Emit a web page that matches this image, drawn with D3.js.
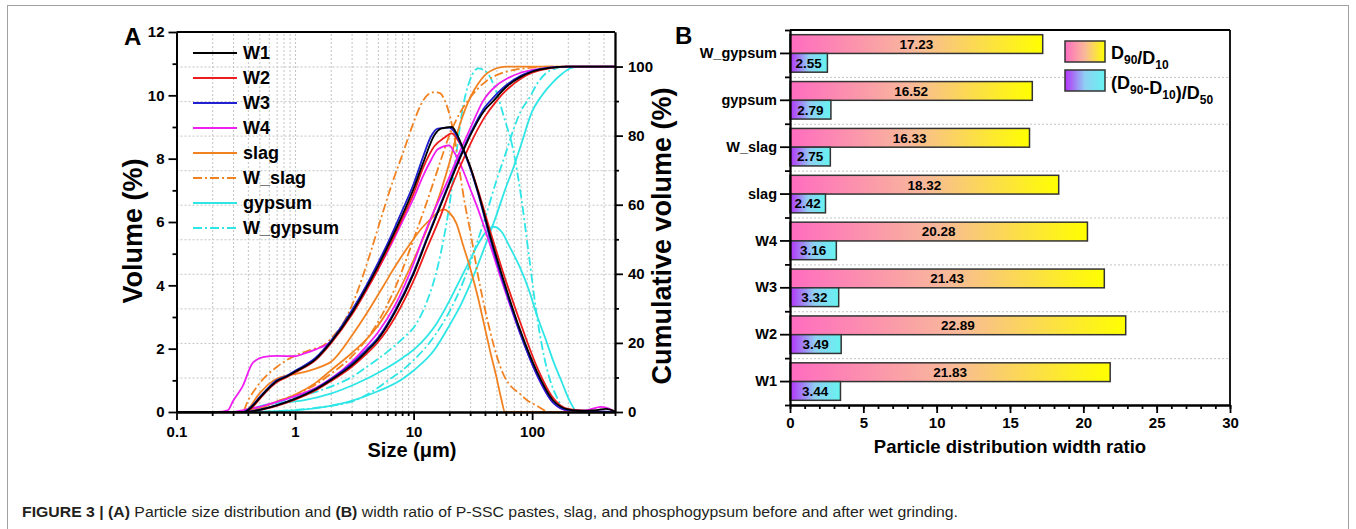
<!DOCTYPE html>
<html>
<head>
<meta charset="utf-8">
<script src="https://cdn.jsdelivr.net/npm/d3@7"></script>
<style>
  body { margin: 0; background: #fff; }
  svg { display: block; font-family: "Liberation Sans", Arial, Helvetica, sans-serif; }
  .axis path, .axis line { stroke: #000; stroke-width: 1.8; }
  .axis text { font-size: 15px; font-weight: bold; fill: #000; }
  .grid line { stroke: #c4c4c4; stroke-width: 1; stroke-dasharray: 2,2; }
  .grid path { display: none; }
</style>
</head>
<body>
<div id="chart"></div>
<script>
// ---------- Panel A: particle size distribution, [size um, value] ----------
const w1Vol = [[0.1,0],[0.37,0],[0.42,0.12],[0.5,0.43],[0.6,0.75],[0.7,0.97],[0.85,1.12],[1,1.27],[1.5,1.68],[2,2.2],[3,3.12],[4,3.92],[5,4.6],[6,5.2],[8,6.2],[10,7.05],[12,7.85],[15,8.75],[17,8.95],[21,9.0],[23,8.8],[26,8.35],[30,7.75],[35,6.95],[44,5.6],[57,4.2],[79,2.6],[109,1.3],[150,0.37],[200,0.08],[250,0.04],[350,0.06],[420,0.1],[500,0.02]];
const w2Vol = [[0.1,0],[0.38,0],[0.43,0.12],[0.5,0.4],[0.6,0.72],[0.7,0.94],[0.85,1.1],[1,1.25],[1.5,1.65],[2,2.16],[3,3.06],[4,3.85],[5,4.5],[6,5.1],[8,6.1],[10,6.9],[12,7.7],[15,8.4],[18,8.65],[21,8.8],[23,8.65],[26,8.3],[30,7.75],[35,7.0],[44,5.75],[57,4.4],[79,2.85],[109,1.45],[150,0.45],[200,0.1],[300,0.03],[500,0]];
const w3Vol = [[0.1,0],[0.36,0],[0.42,0.15],[0.5,0.46],[0.6,0.78],[0.7,1.0],[0.85,1.14],[1,1.3],[1.5,1.72],[2,2.24],[3,3.2],[4,4.0],[5,4.7],[6,5.3],[8,6.35],[10,7.2],[12,8.05],[14,8.7],[16,8.95],[20,8.98],[22,8.85],[26,8.3],[30,7.7],[35,6.9],[44,5.5],[57,4.1],[79,2.5],[109,1.2],[150,0.3],[200,0.06],[300,0.03],[500,0]];
const w4Vol = [[0.1,0],[0.22,0],[0.27,0.05],[0.3,0.35],[0.36,0.8],[0.44,1.55],[0.55,1.74],[0.7,1.77],[1,1.76],[1.2,1.85],[1.5,1.98],[2,2.22],[3,3.1],[4,3.85],[5,4.5],[6,5.05],[8,6.0],[10,6.75],[12,7.45],[14,7.95],[16,8.3],[20,8.42],[22,8.2],[26,7.65],[30,7.05],[35,6.4],[44,5.3],[57,4.0],[79,2.5],[109,1.2],[150,0.3],[200,0.05],[280,0.05],[380,0.16],[450,0.1],[500,0]];
const slagVol = [[0.1,0],[0.37,0],[0.5,0.58],[0.6,0.88],[0.7,1.05],[0.85,1.15],[1,1.2],[1.3,1.3],[1.7,1.45],[2,1.58],[3,2.4],[4,3.1],[5.5,3.95],[7,4.6],[9.3,5.3],[12,5.85],[14,6.1],[17.8,6.4],[20,6.3],[23,5.95],[26,5.3],[30,4.55],[35,3.6],[38.6,2.9],[45,1.8],[50,1.1],[55,0.4],[59,0],[500,0]];
const wSlagVol = [[0.1,0],[0.36,0],[0.4,0.35],[0.5,0.9],[0.7,1.42],[1,1.78],[1.4,1.98],[1.73,2.1],[2.1,2.4],[2.55,2.8],[3.2,3.6],[4.3,5.0],[5.5,6.3],[6.7,7.3],[8,8.1],[9.9,9.1],[11.5,9.7],[13,10.0],[15,10.1],[16.7,10.07],[18.5,9.8],[20.4,9.3],[22.5,8.5],[24.7,7.5],[27,6.6],[29.6,5.84],[35,4.3],[44,2.58],[50,1.8],[57,1.2],[65,0.85],[78.6,0.58],[90,0.38],[108,0.21],[140,0],[500,0]];
const gypVol = [[0.1,0],[0.37,0],[0.5,0.18],[0.62,0.26],[0.8,0.3],[1.17,0.37],[2,0.58],[3.3,0.9],[5.5,1.32],[8,1.7],[10.6,2.05],[15.6,2.79],[20,3.5],[23,3.95],[29.8,4.79],[35,5.3],[40,5.65],[47,5.85],[55,5.7],[65,5.2],[78.6,4.58],[95,3.8],[108.6,3.1],[130,2.3],[150,1.63],[180,0.9],[206,0.37],[243,0],[500,0]];
const wGypVol = [[0.1,0],[0.38,0],[0.5,0.15],[0.7,0.3],[1,0.45],[2,0.8],[3,1.1],[4.3,1.5],[6,1.9],[8,2.3],[10.6,2.8],[13,3.5],[16,4.6],[20,6.5],[23,8.2],[26,9.6],[30,10.5],[35,10.85],[42,10.7],[50,10.1],[58,9.3],[69,8.3],[80,6.9],[95,4.8],[110,3.0],[132,1.42],[160,0.5],[207,0],[500,0]];

const w1Cum = [[0.1,0],[0.37,0],[0.5,0.6],[0.7,1.9],[1,3.8],[1.5,6.6],[2,9.2],[3,13.5],[4,17.5],[5,21],[7,29],[10,40],[13,50],[17,60],[20,66],[25,74],[30,80],[40,87.5],[47,90],[60,94],[80,97],[100,98.5],[140,99.6],[200,100],[500,100]];
const w2Cum = [[0.1,0],[0.38,0],[0.5,0.55],[0.7,1.8],[1,3.6],[1.5,6.3],[2,8.9],[3,13],[4,16.8],[5,20.2],[7,27.5],[10,38],[13,47.5],[17,57],[20,63.5],[25,71.5],[30,77.5],[40,85.5],[50,90],[60,93],[80,96.5],[100,98.2],[140,99.5],[200,100],[500,100]];
const w3Cum = [[0.1,0],[0.36,0],[0.5,0.65],[0.7,2],[1,3.9],[1.5,6.8],[2,9.5],[3,14],[4,18],[5,21.5],[7,29.5],[10,40.5],[13,50.5],[17,60.5],[20,66.5],[25,74.5],[30,80.5],[40,88.3],[45,90.3],[60,94.5],[80,97.3],[100,98.7],[140,99.7],[200,100],[500,100]];
const w4Cum = [[0.1,0],[0.28,0],[0.4,0.8],[0.5,1.5],[0.7,2.9],[1,4.6],[1.5,7],[2,9.6],[3,14.5],[4,19],[5,23],[7,31],[10,43],[12,50.5],[15,58.5],[20,68],[25,76],[30,82],[38.5,90],[50,94.5],[60,96.3],[80,98.2],[100,99],[140,99.7],[200,100],[500,100]];
const slagCum = [[0.1,0],[0.37,0],[0.5,1.2],[0.7,3],[1,5],[1.5,8.5],[2,12],[3,17],[4,21],[5,25],[7,33],[10,44],[13,53],[17,64],[20,72],[23,80],[25,84],[30,91],[35,95],[40,97.5],[50,99.5],[60,100],[500,100]];
const wSlagCum = [[0.1,0],[0.37,0],[0.5,1],[0.7,3],[1,5],[1.5,8],[2,11],[3,16],[4,21],[5,26],[7,36],[10,50],[13,61],[17,73],[20,80],[25,87],[30,91],[40,95.5],[50,97.5],[70,99],[100,99.7],[140,100],[500,100]];
const gypCum = [[0.1,0],[0.37,0],[1,0.5],[2,1.8],[3,3.2],[5,6],[8,9.5],[10,12],[15,18],[20,25],[25,31],[30,37],[40,48],[50,57],[60,65],[70,71],[80,77],[100,87],[120,91.5],[150,95.5],[180,98],[210,99.5],[250,100],[500,100]];
const wGypCum = [[0.1,0],[0.38,0],[1,0.6],[2,1.8],[3,3],[5,7],[6,9],[8,12],[10,15],[15,22],[20,29],[25,36],[30,43],[35,50],[40,56],[50,67],[60,75],[70,82],[80,87],[95,91],[110,95],[130,98],[160,99.5],[190,100],[500,100]];

const seriesNames = ["W1", "W2", "W3", "W4", "slag", "W_slag", "gypsum", "W_gypsum"];
const seriesColors = ["#000000", "#ee1c1c", "#2020d0", "#f01ef0", "#f28220", "#f28220", "#2ee6e6", "#2ee6e6"];
const seriesDashed = [false, false, false, false, false, true, false, true];
const volData = [w1Vol, w2Vol, w3Vol, w4Vol, slagVol, wSlagVol, gypVol, wGypVol];
const cumData = [w1Cum, w2Cum, w3Cum, w4Cum, slagCum, wSlagCum, gypCum, wGypCum];

const sizeTicks = [0.1, 1, 10, 100];
const volTicks = [0, 2, 4, 6, 8, 10, 12];
const cumTicks = [0, 20, 40, 60, 80, 100];

// ---------- Panel B: width ratios ----------
const categories = ["W1", "W2", "W3", "W4", "slag", "W_slag", "gypsum", "W_gypsum"];
const ratioD90D10 = [21.83, 22.89, 21.43, 20.28, 18.32, 16.33, 16.52, 17.23];
const ratioSpan = [3.44, 3.49, 3.32, 3.16, 2.42, 2.75, 2.79, 2.55];
const ratioTicks = [0, 5, 10, 15, 20, 25, 30];

const W = 1356, H = 529;
const svg = d3.select("#chart").append("svg").attr("width", W).attr("height", H);

svg.append("rect")
    .attr("x", 7.5).attr("y", 5.5).attr("width", 1341).attr("height", 540)
    .attr("fill", "none").attr("stroke", "#a0a0a0");

// ================= Panel A =================
const a = { left: 176.5, right: 615, top: 32, bottom: 412 };
const x = d3.scaleLog().domain([0.1, 500]).range([a.left, a.right]);
const yVol = d3.scaleLinear().domain([0, 12]).range([a.bottom, a.top]);
const yCum = d3.scaleLinear().domain([0, 110]).range([a.bottom, a.top]);

let minorX = [];
[0.1, 1, 10, 100].forEach(dec => {
    for (let k = 2; k <= 9; k++) if (k * dec <= 500) minorX.push(k * dec);
});

// grid
svg.append("g").attr("class", "grid")
    .attr("transform", `translate(0,${a.bottom})`)
    .call(d3.axisBottom(x).tickValues(sizeTicks.concat(minorX)).tickSize(-(a.bottom - a.top)).tickFormat(""));
svg.append("g").attr("class", "grid")
    .attr("transform", `translate(${a.left},0)`)
    .call(d3.axisRight(yCum).tickValues(d3.range(10, 101, 10)).tickSize(a.right - a.left).tickFormat(""));

// curves
const lineVol = d3.line().x(d => x(d[0])).y(d => yVol(d[1])).curve(d3.curveMonotoneX);
const lineCum = d3.line().x(d => x(d[0])).y(d => yCum(d[1])).curve(d3.curveMonotoneX);

const drawOrder = [6, 7, 4, 5, 3, 1, 2, 0];
drawOrder.forEach(i => {
    [[cumData[i], lineCum], [volData[i], lineVol]].forEach(([dat, ln]) => {
        svg.append("path")
            .datum(dat)
            .attr("d", ln)
            .attr("fill", "none")
            .attr("stroke", seriesColors[i])
            .attr("stroke-width", 1.8)
            .attr("stroke-dasharray", seriesDashed[i] ? "9,3,2,3" : null);
    });
});

// axes
svg.append("g").attr("class", "axis").attr("transform", `translate(0,${a.bottom})`)
    .call(d3.axisBottom(x).tickValues(sizeTicks).tickFormat(d => d).tickSize(8).tickSizeOuter(0).tickPadding(6));
svg.append("g").attr("class", "axis").attr("transform", `translate(0,${a.bottom})`)
    .call(d3.axisBottom(x).tickValues(minorX).tickFormat("").tickSize(4).tickSizeOuter(0));
svg.append("g").attr("class", "axis").attr("transform", `translate(${a.left},0)`)
    .call(d3.axisLeft(yVol).tickValues(volTicks).tickSize(8).tickSizeOuter(0).tickPadding(4));
svg.append("g").attr("class", "axis").attr("transform", `translate(${a.left},0)`)
    .call(d3.axisLeft(yVol).tickValues([1, 3, 5, 7, 9, 11]).tickFormat("").tickSize(4).tickSizeOuter(0));
svg.append("g").attr("class", "axis").attr("transform", `translate(${a.right},0)`)
    .call(d3.axisRight(yCum).tickValues(cumTicks).tickSize(8).tickSizeOuter(0).tickPadding(5));
svg.append("g").attr("class", "axis").attr("transform", `translate(${a.right},0)`)
    .call(d3.axisRight(yCum).tickValues([10, 30, 50, 70, 90]).tickFormat("").tickSize(4).tickSizeOuter(0));
svg.append("line").attr("x1", a.left).attr("x2", a.right).attr("y1", a.top).attr("y2", a.top)
    .attr("stroke", "#000").attr("stroke-width", 1.8);

// legend A
const legA = svg.append("g");
seriesNames.forEach((name, i) => {
    const yy = 53 + i * 25;
    legA.append("line").attr("x1", 193).attr("x2", 237).attr("y1", yy).attr("y2", yy)
        .attr("stroke", seriesColors[i]).attr("stroke-width", 2)
        .attr("stroke-dasharray", seriesDashed[i] ? "9,3,2,3" : null);
    legA.append("text").attr("x", 243).attr("y", yy).attr("dy", "0.36em")
        .attr("font-size", 18).attr("font-weight", "bold").text(name);
});

// titles A
svg.append("text").attr("transform", "translate(142,231) rotate(-90)")
    .attr("text-anchor", "middle").attr("font-size", 27).attr("font-weight", "bold").text("Volume (%)");
svg.append("text").attr("transform", "translate(671,236) rotate(-90)")
    .attr("text-anchor", "middle").attr("font-size", 27).attr("font-weight", "bold").text("Cumulative volume (%)");
svg.append("text").attr("x", 412).attr("y", 457)
    .attr("text-anchor", "middle").attr("font-size", 20).attr("font-weight", "bold").text("Size (\u03bcm)");
svg.append("text").attr("x", 124).attr("y", 45)
    .attr("font-size", 24).attr("font-weight", "bold").text("A");

// ================= Panel B =================
const b = { left: 790, right: 1230, top: 30, bottom: 405 };
const xb = d3.scaleLinear().domain([0, 30]).range([b.left, b.right]);
const yb = d3.scaleBand().domain(categories.slice().reverse()).range([b.top, b.bottom]);
const yIdx = d3.scaleLinear().domain([0, categories.length]).range([b.bottom, b.top]);
const inner = d3.scaleBand().domain(["ratio", "span"]).range([0, yb.bandwidth()]).paddingOuter(0.25);

const defs = svg.append("defs");
const g1 = defs.append("linearGradient").attr("id", "gradRatio");
[[0, "#ff6cc0"], [0.5, "#f8b99a"], [1, "#ffff00"]].forEach(s =>
    g1.append("stop").attr("offset", s[0]).attr("stop-color", s[1]));
const g2 = defs.append("linearGradient").attr("id", "gradSpan");
[[0, "#b531f8"], [0.5, "#8fd0f3"], [1, "#66f3f0"]].forEach(s =>
    g2.append("stop").attr("offset", s[0]).attr("stop-color", s[1]));

svg.append("g").attr("class", "grid")
    .attr("transform", `translate(${b.left},0)`)
    .call(d3.axisRight(yIdx).tickValues(d3.range(1, categories.length)).tickSize(b.right - b.left).tickFormat(""));

const barG = svg.append("g");
categories.forEach((cat, i) => {
    const y0 = yb(cat);
    const rows = [["ratio", ratioD90D10[i], "url(#gradRatio)"], ["span", ratioSpan[i], "url(#gradSpan)"]];
    rows.forEach(([key, val, fill]) => {
        barG.append("rect")
            .attr("x", xb(0)).attr("y", y0 + inner(key))
            .attr("width", xb(val) - xb(0)).attr("height", inner.bandwidth())
            .attr("fill", fill).attr("stroke", "#333").attr("stroke-width", 1.5);
        barG.append("text")
            .attr("x", xb(val / 2)).attr("y", y0 + inner(key) + inner.bandwidth() / 2)
            .attr("dy", "0.36em").attr("text-anchor", "middle")
            .attr("font-size", 13.5).attr("font-weight", "bold")
            .text(val.toFixed(2));
    });
});

svg.append("g").attr("class", "axis").attr("transform", `translate(0,${b.bottom})`)
    .call(d3.axisBottom(xb).tickValues(ratioTicks).tickSize(8).tickSizeOuter(0).tickPadding(4));
svg.append("g").attr("class", "axis").attr("transform", `translate(0,${b.bottom})`)
    .call(d3.axisBottom(xb).tickValues(d3.range(0, 31, 1)).tickFormat("").tickSize(4).tickSizeOuter(0));
const axLB = svg.append("g").attr("class", "axis").attr("transform", `translate(${b.left},0)`)
    .call(d3.axisLeft(yb).tickSize(10).tickSizeOuter(0).tickPadding(3));
axLB.selectAll("text").style("font-size", "14.5px");
svg.append("g").attr("class", "axis").attr("transform", `translate(${b.left},0)`)
    .call(d3.axisLeft(yIdx).tickValues(d3.range(0, categories.length + 1)).tickFormat("").tickSize(5).tickSizeOuter(0));
svg.append("line").attr("x1", b.left).attr("x2", b.right).attr("y1", b.top).attr("y2", b.top)
    .attr("stroke", "#000").attr("stroke-width", 1.8);
svg.append("line").attr("x1", b.right).attr("x2", b.right).attr("y1", b.top).attr("y2", b.bottom)
    .attr("stroke", "#000").attr("stroke-width", 1.8);

// legend B
const legB = svg.append("g").attr("font-weight", "bold");
legB.append("rect").attr("x", 1065).attr("y", 41).attr("width", 40).attr("height", 21)
    .attr("fill", "url(#gradRatio)").attr("stroke", "#333").attr("stroke-width", 1.5);
legB.append("rect").attr("x", 1065).attr("y", 70).attr("width", 40).attr("height", 21)
    .attr("fill", "url(#gradSpan)").attr("stroke", "#333").attr("stroke-width", 1.5);
function subText(yy, parts) {
    const t = legB.append("text").attr("x", 1111).attr("y", yy).attr("font-size", 18);
    parts.forEach(p => {
        if (p.sub) {
            t.append("tspan").attr("font-size", 12).attr("dy", 5).text(p.sub);
            t.append("tspan").attr("dy", -5).text("");
        } else {
            t.append("tspan").text(p.t);
        }
    });
}
subText(59, [{ t: "D" }, { sub: "90" }, { t: "/D" }, { sub: "10" }]);
subText(89, [{ t: "(D" }, { sub: "90" }, { t: "-D" }, { sub: "10" }, { t: ")/D" }, { sub: "50" }]);

svg.append("text").attr("x", 1010).attr("y", 453)
    .attr("text-anchor", "middle").attr("font-size", 18.5).attr("font-weight", "bold")
    .text("Particle distribution width ratio");
svg.append("text").attr("x", 675).attr("y", 44)
    .attr("font-size", 24).attr("font-weight", "bold").text("B");

// ================= Caption =================
const cap = svg.append("text").attr("x", 22).attr("y", 517)
    .attr("font-size", 15.5).attr("fill", "#231f20")
    .attr("textLength", 936).attr("lengthAdjust", "spacingAndGlyphs");
cap.append("tspan").attr("font-weight", "bold").text("FIGURE 3 | (A)");
cap.append("tspan").text(" Particle size distribution and ");
cap.append("tspan").attr("font-weight", "bold").text("(B)");
cap.append("tspan").text(" width ratio of P-SSC pastes, slag, and phosphogypsum before and after wet grinding.");
</script>
</body>
</html>
